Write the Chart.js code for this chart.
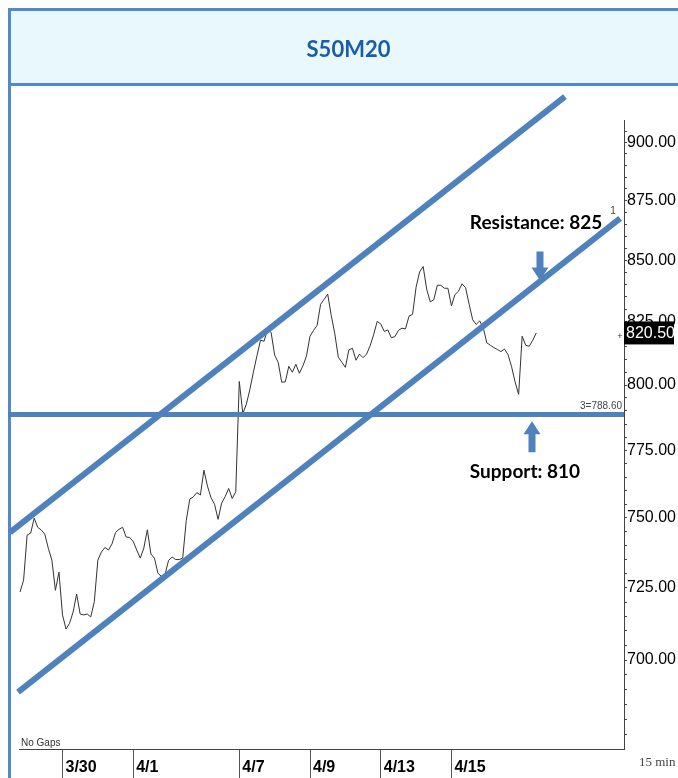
<!DOCTYPE html>
<html><head><meta charset="utf-8">
<script src="https://cdn.jsdelivr.net/npm/chart.js@4"></script>
<style>html,body{margin:0;padding:0;background:#fff;overflow:hidden}canvas{display:block}</style>
</head><body>
<canvas id="c" width="678" height="778"></canvas>
<script>
// ---------- data ----------
const titleText = 'S50M20';
const dateLabels = ['3/30', '4/1', '4/7', '4/9', '4/13', '4/15'];
const labelDays = [0, 2, 5, 7, 9, 11];          // trading-day index of each date label
const firstBarDay = -1.2;                        // trading-day index of first bar
const barsPerDay = 10;
const prices = [
  723.5, 727.7, 743.8, 744.5, 749.9, 746.6, 745.6, 744.1, 739.0, 734.8,
  724.1, 730.5, 715.5, 710.6, 712.6, 716.5, 722.8, 715.8, 715.5, 715.8,
  714.8, 720.1, 734.8, 737.7, 739.3, 738.4, 740.6, 744.7, 745.9, 746.6,
  743.1, 742.9, 741.5, 738.4, 735.5, 739.1, 745.7, 737.0, 735.5, 730.1,
  729.0, 729.7, 734.7, 735.9, 735.0, 735.0, 735.5, 749.1, 756.9, 757.7,
  759.3, 758.4, 767.6, 761.7, 757.4, 755.0, 749.5, 755.4, 757.8, 760.8,
  757.1, 759.6, 801.4, 789.0, 792.6, 798.3, 805.1, 811.5, 817.6, 817.2,
  821.9, 820.7, 811.7, 808.9, 801.1, 801.2, 807.3, 805.0, 808.1, 804.6,
  807.5, 811.3, 819.2, 821.5, 823.5, 832.0, 834.0, 836.1, 827.5, 820.3,
  810.9, 808.9, 806.9, 813.8, 814.4, 809.7, 812.1, 810.7, 812.1, 815.4,
  819.8, 825.1, 824.1, 821.1, 821.7, 818.6, 819.0, 821.5, 822.4, 822.1,
  827.2, 827.9, 838.9, 845.2, 847.4, 838.1, 833.0, 833.8, 839.7, 839.7,
  838.5, 838.5, 831.4, 835.9, 837.3, 840.3, 838.7, 832.0, 825.8, 823.9,
  825.3, 822.5, 816.6, 815.6, 814.7, 813.9, 813.1, 814.1, 811.9, 807.2,
  801.2, 796.4, 819.2, 815.6, 815.2, 817.6, 820.5
];
const lastPrice = 820.50;
const yMajorTicks = [700, 725, 750, 775, 800, 825, 850, 875, 900];
const yMinorStep = 5;
const xRange = [-1.23, 15.88];
const yRange = [670.4, 909.7];

// channel & support lines
const upperDays = [-1.485, 14.21];
const upperValues = [744.8, 920.3];
const lowerDays = [-1.258, 15.77];
const lowerValues = [689.2, 867.4];
const supportValue = 788.60;
const supportDays = [-1.54, 15.88];

// annotations
const resistanceText = 'Resistance: 825';
const supportText = 'Support: 810';
const resTextPos = [11.52, 865.7];
const supTextPos = [11.52, 766.8];
const resArrow = { day: 13.504, from: 853.6, to: 841.7 };
const supArrow = { day: 13.278, from: 774.3, to: 786.1 };
const intervalText = '15 min';
const gapsText = 'No Gaps';

// ---------- styles ----------
const blue = '#4f81bd';
const frameBlue = '#5189cb';
const axisFont = "'Liberation Sans', Arial, sans-serif";

const priceData = prices.map((v, i) => ({ x: firstBarDay + i / barsPerDay, y: v }));
const lineData = (ds, vs) => ds.map((d, i) => ({ x: d, y: vs[i] }));

const yTicksAll = [];
for (let v = 675; v <= 905; v += yMinorStep) yTicksAll.push(v);

const decorPlugin = {
  id: 'decor',
  beforeDraw(chart) {
    const c = chart.ctx, W = chart.width, H = chart.height;
    c.save();
    c.fillStyle = '#fff'; c.fillRect(0, 0, W, H);
    c.fillStyle = '#e8f8fc'; c.fillRect(9, 9, W - 9, 76);
    c.strokeStyle = frameBlue; c.lineWidth = 3;
    c.beginPath();
    c.moveTo(9.5, H); c.lineTo(9.5, 9.5); c.lineTo(W, 9.5);
    c.moveTo(9.5, 84.5); c.lineTo(W, 84.5);
    c.stroke();
    c.restore();
  }
};

function drawArrow(c, px, y0, y1) {
  const dir = Math.sign(y1 - y0), sw = 3.5, hw = 8.5, hl = 13;
  const hb = y1 - dir * hl;
  c.beginPath();
  c.moveTo(px - sw, y0); c.lineTo(px + sw, y0); c.lineTo(px + sw, hb); c.lineTo(px + hw, hb);
  c.lineTo(px, y1); c.lineTo(px - hw, hb); c.lineTo(px - sw, hb); c.closePath();
  c.fill();
}

const notesPlugin = {
  id: 'notes',
  afterDraw(chart) {
    const { ctx: c, scales: { x, y }, chartArea: a } = chart;
    c.save();
    c.fillStyle = blue;
    drawArrow(c, x.getPixelForValue(resArrow.day), y.getPixelForValue(resArrow.from), y.getPixelForValue(resArrow.to));
    drawArrow(c, x.getPixelForValue(supArrow.day), y.getPixelForValue(supArrow.from), y.getPixelForValue(supArrow.to));

    c.fillStyle = '#000';
    c.font = '700 19px Lato';
    c.textAlign = 'left'; c.textBaseline = 'middle';
    c.fillText(resistanceText, x.getPixelForValue(resTextPos[0]), y.getPixelForValue(resTextPos[1]));
    c.fillText(supportText, x.getPixelForValue(supTextPos[0]), y.getPixelForValue(supTextPos[1]));

    // support level label
    c.font = '10px ' + axisFont; c.fillStyle = '#444';
    c.textAlign = 'right'; c.textBaseline = 'bottom';
    c.fillText('3=' + supportValue.toFixed(2), a.right - 2, y.getPixelForValue(supportValue) - 3);

    // "1" at end of lower channel
    c.textAlign = 'center';
    c.fillText('1', x.getPixelForValue(lowerDays[1]) - 7, y.getPixelForValue(lowerValues[1]) - 2);

    // no gaps
    c.textAlign = 'left'; c.textBaseline = 'bottom'; c.fillStyle = '#333';
    c.fillText(gapsText, a.left + 2, a.bottom - 1);

    // interval
    c.font = '13px "Liberation Serif", serif'; c.fillStyle = '#444';
    c.textBaseline = 'middle';
    c.fillText(intervalText, a.right + 15, a.bottom + 14);

    // last price box
    const ly = y.getPixelForValue(lastPrice);
    c.fillStyle = '#000';
    c.fillRect(a.right, ly - 11.5, 50, 23);
    c.fillStyle = '#fff';
    c.font = '16px ' + axisFont;
    c.textBaseline = 'middle';
    c.fillText(lastPrice.toFixed(2), a.right + 2, ly + 1);
    c.fillStyle = '#333';
    c.font = '9px ' + axisFont;
    c.textAlign = 'center';
    c.fillText('+', a.right - 4, ly + 4);
    c.restore();
  }
};

new Chart(document.getElementById('c'), {
  type: 'line',
  data: {
    datasets: [
      { data: priceData, borderColor: '#333', borderWidth: 1, pointRadius: 0, tension: 0, order: 5 },
      { data: lineData(upperDays, upperValues), borderColor: blue, borderWidth: 6, pointRadius: 0, clip: false, order: 1, borderCapStyle: 'butt' },
      { data: lineData(lowerDays, lowerValues), borderColor: blue, borderWidth: 6, pointRadius: 0, clip: false, order: 1, borderCapStyle: 'butt' },
      { data: lineData(supportDays, [supportValue, supportValue]), borderColor: blue, borderWidth: 5, pointRadius: 0, clip: false, order: 1 }
    ]
  },
  options: {
    responsive: false, animation: false, events: [],
    layout: { padding: { left: 19, right: 0, top: 10, bottom: 0 } },
    plugins: {
      legend: { display: false }, tooltip: { enabled: false },
      title: {
        display: true, text: titleText, color: '#1a5ca8',
        font: { family: 'Lato', weight: '700', size: 22, lineHeight: 1.2 },
        padding: { top: 27, bottom: 57 }
      }
    },
    scales: {
      x: {
        type: 'linear', min: xRange[0], max: xRange[1],
        afterBuildTicks: (ax) => { ax.ticks = labelDays.map(d => ({ value: d })); },
        afterFit: (ax) => { ax.height = 29; },
        ticks: {
          autoSkip: false, maxRotation: 0, align: 'start', labelOffset: 3, padding: -20,
          color: '#000', font: { family: axisFont, size: 16, weight: '700' },
          callback: (v) => dateLabels[labelDays.indexOf(v)] ?? ''
        },
        grid: { drawOnChartArea: false, drawTicks: true, tickLength: 29, color: '#555', tickColor: '#555' },
        border: { display: true, color: '#444', width: 1 }
      },
      y: {
        type: 'logarithmic', position: 'right', min: yRange[0], max: yRange[1],
        afterBuildTicks: (ax) => { ax.ticks = yTicksAll.map(v => ({ value: v })); },
        afterFit: (ax) => { ax.width = 54; },
        ticks: {
          autoSkip: false, padding: 0, color: '#000',
          font: { family: axisFont, size: 16 },
          callback: (v) => yMajorTicks.includes(v) ? v.toFixed(2) : ''
        },
        grid: { drawOnChartArea: false, drawTicks: true, tickLength: 3, tickColor: '#444' },
        border: { display: true, color: '#444', width: 1 }
      }
    }
  },
  plugins: [decorPlugin, notesPlugin]
});
</script>
</body></html>
